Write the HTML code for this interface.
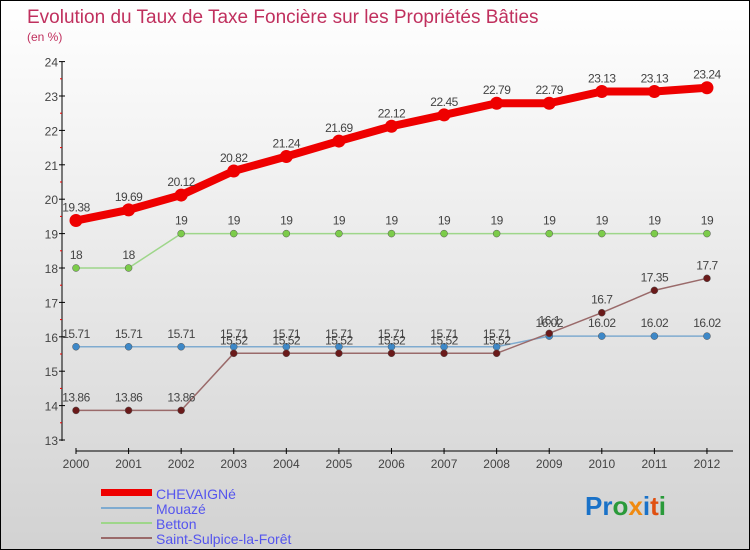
<!DOCTYPE html>
<html><head><meta charset="utf-8"><style>
body{margin:0}
#wrap{position:relative;width:748px;height:548px;border:1px solid #000;background:linear-gradient(#ffffff,#d2d2d2);font-family:"Liberation Sans",sans-serif;overflow:hidden}
</style></head><body>
<div id="wrap">
<svg id="svg" width="748" height="548" style="position:absolute;left:0;top:0">
<text x="26" y="22" font-size="19" fill="#c0305e">Evolution du Taux de Taxe Foncière sur les Propriétés Bâties</text>
<text x="26" y="40" font-size="12" fill="#c0305e">(en %)</text>
<g id="axes"></g><g id="series"></g>
<g>
<rect x="100" y="488" width="51" height="7" fill="#e00"/>
<text x="155" y="498" font-size="14" fill="#5555ee">CHEVAIGNé</text>
<line x1="100" y1="507" x2="151" y2="507" stroke="#7fabd0" stroke-width="2"/>
<text x="155" y="513" font-size="14" fill="#5555ee">Mouazé</text>
<line x1="100" y1="522" x2="151" y2="522" stroke="#9ed68a" stroke-width="2"/>
<text x="155" y="528" font-size="14" fill="#5555ee">Betton</text>
<line x1="100" y1="537" x2="151" y2="537" stroke="#9a6a6a" stroke-width="2"/>
<text x="155" y="543" font-size="14" fill="#5555ee">Saint-Sulpice-la-Forêt</text>
</g>
<text x="584" y="514" font-size="26" font-weight="bold"><tspan fill="#1a72c8">Pr</tspan><tspan fill="#2a9a3a">o</tspan><tspan fill="#f08a10">x</tspan><tspan fill="#1a72c8">i</tspan><tspan fill="#e05010">t</tspan><tspan fill="#2a9a3a">i</tspan></text>
</svg>
</div>
<script>
const years=[2000,2001,2002,2003,2004,2005,2006,2007,2008,2009,2010,2011,2012];
const chevaigne=[19.38,19.69,20.12,20.82,21.24,21.69,22.12,22.45,22.79,22.79,23.13,23.13,23.24];
const mouaze=[15.71,15.71,15.71,15.71,15.71,15.71,15.71,15.71,15.71,16.02,16.02,16.02,16.02];
const betton=[18,18,19,19,19,19,19,19,19,19,19,19,19];
const sulpice=[13.86,13.86,13.86,15.52,15.52,15.52,15.52,15.52,15.52,16.1,16.7,17.35,17.7];
const yTicks=[13,14,15,16,17,18,19,20,21,22,23,24];
const NS="http://www.w3.org/2000/svg";
const X=i=>75+i*52.58, Y=v=>439-(v-13)*34.4;
function mk(t,a,p){const e=document.createElementNS(NS,t);for(const k in a)e.setAttribute(k,a[k]);p.appendChild(e);return e;}
const ax=document.getElementById('axes'), sg=document.getElementById('series');
let e=mk('line',{x1:61,y1:61,x2:61,y2:440,stroke:'#000'},ax);

yTicks.forEach(v=>{mk('line',{x1:58,y1:Y(v),x2:64,y2:Y(v),stroke:'#000'},ax);
if(v<24)mk('line',{x1:59,y1:Y(v+0.5),x2:61,y2:Y(v+0.5),stroke:'#e00'},ax);
const t=mk('text',{x:57,y:Y(v)+5,'font-size':12,fill:'#444','text-anchor':'end'},ax);t.textContent=v;
});
e=mk('line',{x1:75,y1:450,x2:732,y2:450,stroke:'#000'},ax);

years.forEach((y,i)=>{mk('line',{x1:X(i),y1:447,x2:X(i),y2:453,stroke:'#000'},ax);
const t=mk('text',{x:X(i),y:467,'font-size':12,fill:'#444','text-anchor':'middle'},ax);t.textContent=y;
});
function series(d,name,col,w,r,dot,fmt){
const g=mk('g',{},sg);
const l=mk('polyline',{points:d.map((v,i)=>X(i)+','+Y(v)).join(' '),fill:'none',stroke:col,'stroke-width':w,'stroke-linejoin':'round'},g);

d.forEach((v,i)=>{const c=mk('circle',{cx:X(i),cy:Y(v),r:r,fill:dot,stroke:r>4?'none':'#555','stroke-width':0.5},g);

const t=mk('text',{x:X(i),y:Y(v)-9,'font-size':12,fill:'#444','text-anchor':'middle','letter-spacing':'-0.5'},g);t.textContent=String(v);
});}
series(betton,'betton','#9ed68a',1.5,3.5,'#7ccc4a');
series(mouaze,'mouaze','#7fabd0',1.5,3.5,'#3d88c8');
series(sulpice,'saint-sulpice','#9a6a6a',1.5,3.5,'#6a1a1a');
series(chevaigne,'chevaigne','#e00',8,6.5,'#e00');
</script>
</body></html>
